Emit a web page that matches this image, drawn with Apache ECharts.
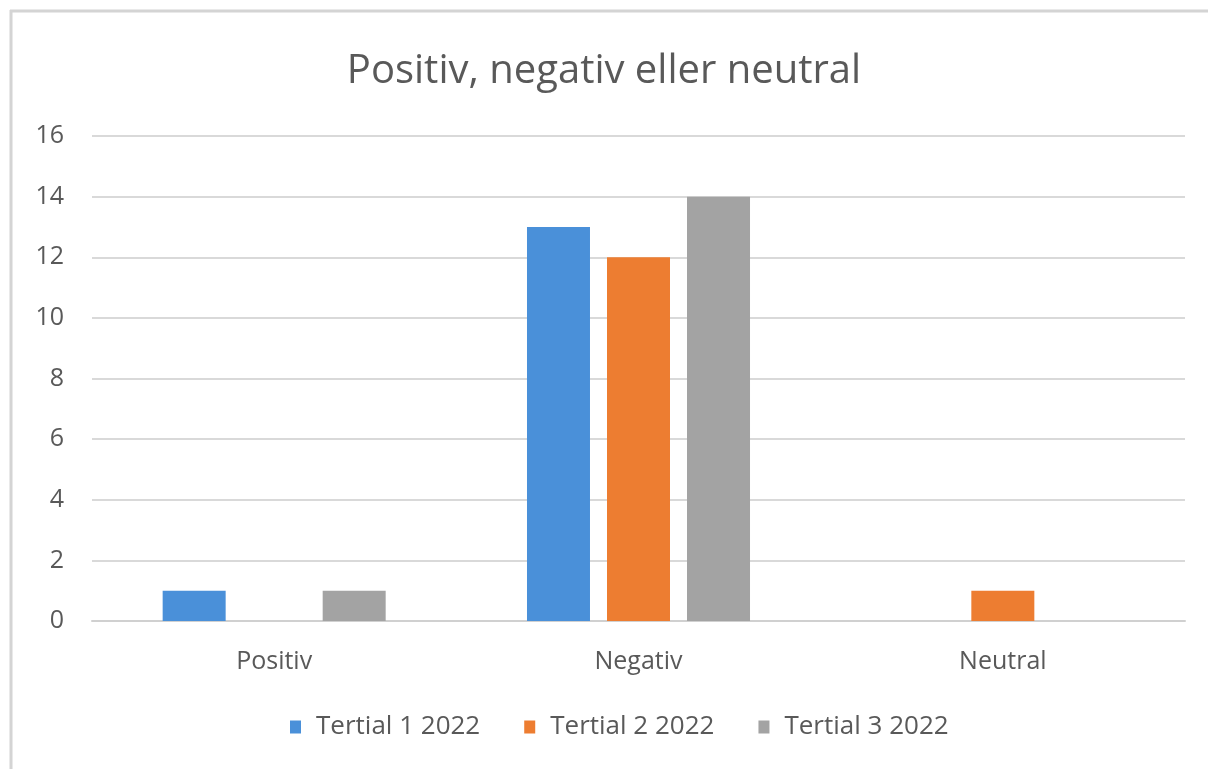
<!DOCTYPE html>
<html>
<head>
<meta charset="utf-8">
<script src="https://cdn.jsdelivr.net/npm/echarts@6/dist/echarts.min.js"></script>
<style>
html,body{margin:0;padding:0;background:#fff;}
#main{width:1208px;height:769px;}
</style>
</head>
<body>
<div id="main"></div>
<script>
const categories = ['Positiv', 'Negativ', 'Neutral'];
const seriesNames = ['Tertial 1 2022', 'Tertial 2 2022', 'Tertial 3 2022'];
const tertial1 = [1, 13, 0];
const tertial2 = [0, 12, 1];
const tertial3 = [1, 14, 0];
const colors = ['#4A90D9', '#ED7D31', '#A3A3A3'];
const yTicks = [0, 2, 4, 6, 8, 10, 12, 14, 16];

const chart = echarts.init(document.getElementById('main'));
const font = 'Open Sans, Noto Sans, sans-serif';
const seriesData = [tertial1, tertial2, tertial3];
chart.setOption({
  animation: false,
  backgroundColor: '#fff',
  color: colors,
  title: {
    text: 'Positiv, negativ eller neutral',
    left: 'center',
    top: 47,
    textStyle: { fontFamily: font, fontSize: 40, fontWeight: 'normal', color: '#595959' }
  },
  graphic: [
    { type: 'line', shape: { x1: 10, y1: 11, x2: 1208, y2: 11 }, style: { stroke: '#d4d4d4', lineWidth: 3 } },
    { type: 'line', shape: { x1: 11, y1: 10, x2: 11, y2: 769 }, style: { stroke: '#d4d4d4', lineWidth: 3 } }
  ],
  legend: {
    data: seriesNames,
    bottom: 24,
    left: 285,
    itemWidth: 11,
    itemHeight: 13,
    itemGap: 44,
    icon: 'rect',
    textStyle: { fontFamily: font, fontSize: 26, color: '#595959', padding: [0, 0, 0, 10] }
  },
  grid: { left: 92, right: 23, top: 136, bottom: 148, containLabel: false },
  xAxis: {
    type: 'category',
    data: categories,
    axisLine: { lineStyle: { color: '#d0d0d0', width: 2 } },
    axisTick: { show: false },
    axisLabel: { fontFamily: font, fontSize: 25, color: '#595959', margin: 28 }
  },
  yAxis: {
    type: 'value',
    min: yTicks[0],
    max: yTicks[yTicks.length - 1],
    interval: 2,
    axisLine: { show: false },
    axisTick: { show: false },
    splitLine: { lineStyle: { color: '#d9d9d9', width: 2 } },
    axisLabel: { fontFamily: font, fontSize: 25, color: '#595959', margin: 28 }
  },
  series: seriesNames.map((n, i) => ({
    name: n,
    type: 'bar',
    data: seriesData[i],
    barWidth: 63,
    barGap: '27%',
    itemStyle: { color: colors[i] }
  }))
});
</script>
</body>
</html>
